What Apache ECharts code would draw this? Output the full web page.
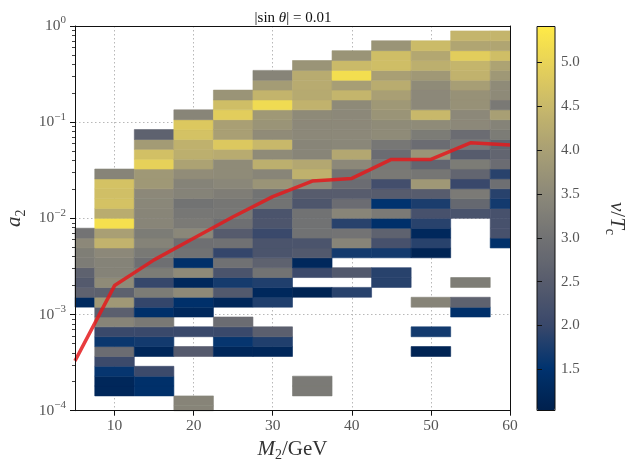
<!DOCTYPE html>
<html>
<head>
<meta charset="utf-8">
<script src="https://cdn.jsdelivr.net/npm/echarts@6/dist/echarts.min.js"></script>
<style>
html,body{margin:0;padding:0;background:#fff;}
#chart{width:635px;height:459px;}
</style>
</head>
<body>
<div id="chart"></div>
<script>
// ---------------- data ----------------
// M2 bin centres (GeV)
const massCenters = [5, 10, 15, 20, 25, 30, 35, 40, 45, 50, 55, 60];
// a2 grid: 40 log-spaced rows between 1e-4 and 1
const a2Rows = Array.from({length: 40}, (_, k) => Math.pow(10, -4 + 4 * k / 39));
// v/Tc per column: "from" = first a2 row index, values going upward (null = empty)
const col_M5  = {from: 11, v: [1.29,2.64,2.44,2.62,3.22,3.26,3.49,3.03]};
const col_M10 = {from: 2,  v: [1.21,1.21,1.57,2.05,2.87,1.61,2.02,3.40,2.57,3.84,2.61,3.55,3.37,3.37,3.49,4.4,4.0,5.23,4.26,4.68,4.62,4.68,3.40]};
const col_M15 = {from: 2,  v: [1.44,1.44,2.05,null,1.21,1.68,2.02,3.16,1.44,1.96,3.21,1.98,3.21,2.93,3.15,3.37,3.21,3.42,3.42,3.46,3.49,3.83,3.83,4.96,4.65,3.90,2.62]};
const col_M20 = {from: 0,  v: [3.40,3.40,null,null,null,null,2.45,null,2.02,null,1.24,1.44,3.53,1.24,3.53,1.44,3.0,2.93,3.46,3.18,3.1,3.01,3.37,3.37,3.58,4.05,4.31,4.36,4.68,4.80,3.42]};
const col_M25 = {from: 6,  v: [1.21,1.57,2.02,2.87,null,1.21,2.41,1.70,2.29,2.97,1.96,2.97,2.47,2.93,3.1,3.08,3.25,3.46,3.55,3.55,4.24,4.80,4.0,4.0,4.89,4.61,3.74]};
const col_M30 = {from: 6,  v: [1.21,1.79,2.57,null,null,1.79,1.24,1.79,3.01,2.62,2.29,2.29,2.02,2.32,2.29,3.01,3.01,3.74,3.42,4.31,3.55,4.49,3.56,3.74,3.83,5.14,4.42,3.92,3.40]};
const col_M35 = {from: 2,  v: [3.18,3.18,null,null,null,null,null,null,null,null,1.13,null,2.05,1.24,2.41,2.29,3.0,3.0,3.0,2.34,2.49,3.5,4.36,4.16,3.42,3.42,3.49,3.49,3.53,4.38,4.21,4.24,4.24,3.74]};
const col_M40 = {from: 12, v: [1.86,null,2.41,null,1.68,3.40,3.03,1.86,3.42,2.87,2.49,2.87,3.01,3.49,4.16,3.46,3.49,3.49,3.49,3.53,4.44,3.97,5.19,4.53,3.74]};
const col_M45 = {from: 13, v: [1.86,1.86,null,1.68,2.23,2.62,1.44,3.18,1.52,2.49,2.16,3.16,3.10,2.87,3.10,3.55,3.55,3.74,3.83,4.0,4.26,4.0,4.61,4.61,3.74]};
const col_M50 = {from: 6,  v: [1.13,null,1.68,null,null,3.40,null,null,null,null,1.13,1.86,1.24,1.86,2.23,1.75,2.49,3.83,3.08,2.70,3.74,2.87,3.21,3.55,4.49,3.49,3.49,3.55,3.85,4.31,4.16,4.55]};
const col_M55 = {from: 10, v: [1.44,2.62,null,3.24,null,null,null,null,null,null,2.27,2.76,3.18,2.0,2.70,3.21,2.49,3.10,2.87,3.49,3.49,3.69,3.69,3.97,4.38,4.44,4.89,4.11,4.44]};
const col_M60 = {from: 17, v: [1.44,2.23,2.23,2.23,1.68,1.86,2.93,1.86,2.87,2.70,2.70,3.21,3.37,3.99,3.16,3.53,3.55,3.83,4.07,4.61,4.11,4.44]};
const columns = [col_M5,col_M10,col_M15,col_M20,col_M25,col_M30,col_M35,col_M40,col_M45,col_M50,col_M55,col_M60];

// red boundary line
const lineMass = [5, 10, 15, 20, 25, 30, 35, 40, 45, 50, 55, 60];
const lineA2   = [3.3e-4, 2.0e-3, 3.7e-3, 6.2e-3, 1.04e-2, 1.68e-2, 2.44e-2, 2.6e-2, 4.1e-2, 4.1e-2, 6.1e-2, 5.8e-2];

// ticks
const xTickValues = [10, 20, 30, 40, 50, 60];
const cbarTicks = [1.5, 2.0, 2.5, 3.0, 3.5, 4.0, 4.5, 5.0];
const vMin = 1.03, vMax = 5.41;
const cividis = ['#00204D','#00336F','#39486B','#575C6D','#707173','#8A8779','#A69D75','#C4B56C','#E4CF5B','#FFEA46'];

// ---------------- build ----------------
const cellData = [];
columns.forEach((col, j) => {
  col.v.forEach((val, i) => {
    if (val != null) cellData.push([massCenters[j], a2Rows[col.from + i], val]);
  });
});
const lineData = lineMass.map((m, i) => [m, lineA2[i]]);
const minorTicks = [];
[-4, -3, -2, -1].forEach(e => { for (let d = 2; d <= 9; d++) minorTicks.push(d * Math.pow(10, e)); });

const halfW = (massCenters[1] - massCenters[0]) / 2;
const rowRatio = Math.sqrt(a2Rows[1] / a2Rows[0]);
const serif = "'Liberation Serif','DejaVu Serif',serif";
const tickColor = '#555';

function renderCell(params, api) {
  const x = api.value(0), y = api.value(1);
  const cs = params.coordSys;
  const p0 = api.coord([x - halfW, y * rowRatio]);
  const p1 = api.coord([x + halfW, y / rowRatio]);
  const x0 = Math.max(Math.min(p0[0], p1[0]), cs.x);
  const x1 = Math.min(Math.max(p0[0], p1[0]), cs.x + cs.width);
  const y0 = Math.max(Math.min(p0[1], p1[1]), cs.y);
  const y1 = Math.min(Math.max(p0[1], p1[1]), cs.y + cs.height);
  const c = api.visual('color');
  return {type: 'rect', shape: {x: x0, y: y0, width: x1 - x0, height: y1 - y0},
          style: {fill: c, stroke: c, lineWidth: 0.6}};
}

const supRich = {
  b: {fontSize: 15.5, lineHeight: 22, fontFamily: serif, color: tickColor},
  p: {fontSize: 11, lineHeight: 11, verticalAlign: 'top', fontFamily: serif, color: tickColor}
};
const nameRich = {
  i: {fontSize: 21, fontStyle: 'italic', fontFamily: serif, color: '#333', lineHeight: 27},
  n: {fontSize: 21, fontFamily: serif, color: '#333', lineHeight: 27},
  s: {fontSize: 14, fontFamily: serif, color: '#333', lineHeight: 13, verticalAlign: 'bottom'}
};
const lineBlack = {color: '#111', width: 1};

const option = {
  backgroundColor: '#fff',
  animation: false,
  title: {
    text: '{n||sin }{i|θ}{n|| = 0.01}',
    left: 288, top: 6, textAlign: 'center',
    textStyle: {fontWeight: 'normal', rich: {
      n: {fontSize: 15, fontFamily: serif, fontWeight: 'normal', color: '#111'},
      i: {fontSize: 15, fontFamily: serif, fontWeight: 'normal', fontStyle: 'italic', color: '#111'}
    }}
  },
  grid: [
    {left: 75, top: 26, width: 435, height: 384.7, outerBoundsMode: 'none', containLabel: false},
    {left: 537, top: 26.5, width: 18, height: 384, show: true, borderColor: '#111', borderWidth: 1,
     backgroundColor: 'transparent', z: 10, outerBoundsMode: 'none', containLabel: false}
  ],
  visualMap: {
    type: 'continuous', seriesIndex: 0, dimension: 2,
    min: vMin, max: vMax, calculable: false, text: null,
    left: 537, top: 26.5, itemWidth: 18, itemHeight: 384, padding: 0,
    inRange: {color: cividis}, hoverLink: false
  },
  xAxis: [
    {
      type: 'value', gridIndex: 0, min: 5, max: 60, position: 'bottom', z: 5,
      axisLine: {show: true, onZero: false, lineStyle: lineBlack},
      axisTick: {show: true, length: 5, inside: false, customValues: xTickValues, lineStyle: lineBlack},
      axisLabel: {show: true, customValues: xTickValues, margin: 7, color: tickColor, fontSize: 15.5, fontFamily: serif},
      splitLine: {show: false},
      name: '{i|M}{s|2}{n|/GeV}', nameLocation: 'middle', nameGap: 25,
      nameTextStyle: {rich: nameRich}
    },
    {
      type: 'value', gridIndex: 0, min: 5, max: 60, position: 'top', z: 5,
      axisLine: {show: true, onZero: false, lineStyle: lineBlack},
      axisTick: {show: false}, axisLabel: {show: false}, splitLine: {show: false}
    },
    {
      type: 'value', gridIndex: 0, min: 5, max: 60, position: 'bottom', z: 0,
      axisLine: {show: false}, axisTick: {show: false}, axisLabel: {show: false},
      splitLine: {show: true, lineStyle: {color: '#b8b8b8', type: [1.5, 2.5], width: 1}}
    },
    {type: 'value', gridIndex: 1, min: 0, max: 1, show: false}
  ],
  yAxis: [
    {
      type: 'log', logBase: 10, gridIndex: 0, min: 1e-4, max: 1, position: 'left', z: 5,
      axisLine: {show: true, onZero: false, lineStyle: lineBlack},
      axisTick: {show: true, length: 5, inside: false, lineStyle: lineBlack},
      axisLabel: {
        show: true, margin: 9,
        formatter: v => {
          const e = Math.round(Math.log10(v));
          return '{b|10}{p|' + (e < 0 ? '\u2212' + (-e) : e) + '}';
        },
        rich: supRich
      },
      splitLine: {show: false},
      name: '{i|a}{s|2}', nameLocation: 'middle', nameGap: 41, nameRotate: 90,
      nameTextStyle: {rich: nameRich}
    },
    {
      type: 'log', logBase: 10, gridIndex: 0, min: 1e-4, max: 1, position: 'left', z: 5,
      axisLine: {show: false},
      axisTick: {show: true, length: 3, inside: false, customValues: minorTicks, lineStyle: {color: '#111', width: 0.8}},
      axisLabel: {show: false}, splitLine: {show: false}
    },
    {
      type: 'log', logBase: 10, gridIndex: 0, min: 1e-4, max: 1, position: 'right', z: 5,
      axisLine: {show: true, onZero: false, lineStyle: lineBlack},
      axisTick: {show: false}, axisLabel: {show: false}, splitLine: {show: false}
    },
    {
      type: 'log', logBase: 10, gridIndex: 0, min: 1e-4, max: 1, position: 'left', z: 0,
      axisLine: {show: false}, axisTick: {show: false}, axisLabel: {show: false},
      splitLine: {show: true, lineStyle: {color: '#b8b8b8', type: [1.5, 2.5], width: 1}}
    },
    {
      type: 'value', gridIndex: 1, min: vMin, max: vMax, position: 'right', z: 10,
      axisLine: {show: false},
      axisTick: {show: true, length: 5, inside: false, customValues: cbarTicks, lineStyle: lineBlack},
      axisLabel: {show: true, customValues: cbarTicks, margin: 6, color: tickColor, fontSize: 15, fontFamily: serif,
                  formatter: v => v.toFixed(1)},
      splitLine: {show: false},
      name: '{i|v}{n|/}{i|T}{s|c}', nameLocation: 'middle', nameGap: 48, nameRotate: -90,
      nameTextStyle: {rich: nameRich}
    }
  ],
  series: [
    {
      type: 'custom', xAxisIndex: 0, yAxisIndex: 0, renderItem: renderCell,
      data: cellData, encode: {x: 0, y: 1}, z: 2, silent: true
    },
    {
      type: 'line', xAxisIndex: 0, yAxisIndex: 0, data: lineData, symbol: 'none', z: 3,
      lineStyle: {color: '#e41a1c', width: 3.5, opacity: 0.85}, silent: true
    }
  ]
};

const chart = echarts.init(document.getElementById('chart'));
chart.setOption(option);
</script>
</body>
</html>
